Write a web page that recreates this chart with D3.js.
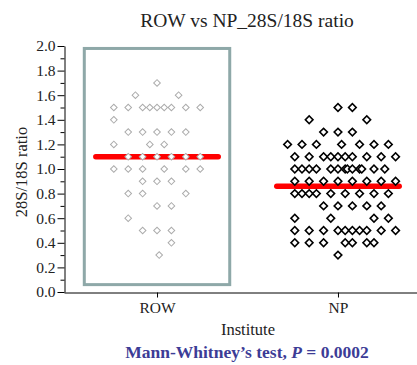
<!DOCTYPE html>
<html>
<head>
<meta charset="utf-8">
<script src="https://cdn.jsdelivr.net/npm/d3@7"></script>
<style>
  body { margin: 0; background: #fff; }
  svg { display: block; }
  text { font-family: "Liberation Serif", "Times New Roman", serif; }
</style>
</head>
<body>
<div id="root"></div>
<script>
const WIDTH = 417
const HEIGHT = 365

const groups = ['ROW', 'NP']
const yMajorTicks = [0, 0.2, 0.4, 0.6, 0.8, 1.0, 1.2, 1.4, 1.6, 1.8, 2.0]
const yMinorTicks = [0.1, 0.3, 0.5, 0.7, 0.9, 1.1, 1.3, 1.5, 1.7, 1.9]

// [ratio, column offsets of the dots at that ratio]
const rowPoints = [
  [1.7, [0]],
  [1.6, [-3, 3]],
  [1.5, [-6, -4, -2, -1, 0, 1, 2, 4, 6]],
  [1.4, [-6]],
  [1.3, [-4, -2, 0, 2, 4]],
  [1.2, [-6, -1, 1]],
  [1.1, [-4, -2, 0, 2, 4, 6]],
  [1.0, [-6, -4, -2, 1, 4, 6]],
  [0.9, [-2, 0, 2]],
  [0.8, [-4, -2, 4]],
  [0.7, [0, 2]],
  [0.6, [-4]],
  [0.5, [-2, 0, 2]],
  [0.4, [2]],
  [0.3, [0.3]]
]

const npPoints = [
  [1.5, [0, 2]],
  [1.4, [-4, 4]],
  [1.3, [-2, 0, 2]],
  [1.2, [-7, -5, -3, 0.5, 3, 5, 7]],
  [1.1, [-6, -4, -2, -1, 0, 1, 2, 4, 6, 8]],
  [1.0, [-6, -5, -4, -3, -1, 0, 1, 1.3, 2, 3, 3.3, 5, 6.5]],
  [0.9, [-6, -4, -2, 0, 2, 4, 6, 8]],
  [0.8, [-6, -5, -4, -3, -1, 1, 3, 5, 7]],
  [0.7, [-2, 0, 2, 4, 6]],
  [0.6, [-6, -1, 5, 7]],
  [0.5, [-6, -4, -2, 0, 1, 2, 3, 4, 6, 8]],
  [0.4, [-6, -4, -2, 1, 2, 4, 5]],
  [0.3, [0]]
]

const medians = [1.1, 0.86]
const highlightBox = { group: 'ROW', top: 1.98, bottom: 0.06, halfCols: 10.1 }

const y = d3.scaleLinear().domain([0, 2]).range([292, 46])
const x = d3.scalePoint().domain(groups).range([64, 431]).padding(0.514)
const col = d3.scaleLinear().domain([0, 1]).range([0, 7.2])

const svg = d3.select('#root')
  .append('svg')
  .attr('width', WIDTH)
  .attr('height', HEIGHT)

// highlight box round the ROW group
svg.append('rect')
  .attr('x', x(highlightBox.group) - col(highlightBox.halfCols))
  .attr('y', y(highlightBox.top))
  .attr('width', col(highlightBox.halfCols) * 2)
  .attr('height', y(highlightBox.bottom) - y(highlightBox.top))
  .attr('fill', 'none')
  .attr('stroke', '#8ea8a8')
  .attr('stroke-width', 3)

// axes
svg.append('g')
  .attr('transform', 'translate(64.5,0)')
  .call(d3.axisLeft(y).tickValues(yMinorTicks).tickSize(4).tickSizeOuter(0).tickFormat(''))
  .call(g => g.select('.domain').remove())

svg.append('g')
  .attr('transform', 'translate(64.5,0)')
  .call(d3.axisLeft(y).tickValues(yMajorTicks).tickSize(7).tickSizeOuter(0).tickPadding(2).tickFormat(d3.format('.1f')))
  .call(g => g.selectAll('text').attr('font-size', 15.5).attr('font-family', '"Liberation Serif", serif').attr('fill', '#222'))

svg.append('g')
  .attr('transform', 'translate(0,292.5)')
  .call(d3.axisBottom(x).tickSize(5).tickSizeOuter(0).tickPadding(4))
  .call(g => g.selectAll('text').attr('font-size', 15.5).attr('font-family', '"Liberation Serif", serif').attr('fill', '#222'))

// median bars
svg.selectAll('.median')
  .data(medians)
  .enter()
  .append('line')
  .attr('class', 'median')
  .attr('x1', (d, i) => x(groups[i]) - col(8.5))
  .attr('x2', (d, i) => x(groups[i]) + col(8.5))
  .attr('y1', d => y(d))
  .attr('y2', d => y(d))
  .attr('stroke', '#ff0000')
  .attr('stroke-width', 5.5)
  .attr('stroke-linecap', 'round')

const flatten = (rows, group) => rows.flatMap(([v, cols]) => cols.map(c => ({ group, value: v, col: c })))

const styles = {
  ROW: { size: 22, stroke: '#acacac', width: 1 },
  NP: { size: 29, stroke: '#000', width: 1.6 }
}

const dots = flatten(rowPoints, 'ROW').concat(flatten(npPoints, 'NP'))

svg.selectAll('.dot')
  .data(dots)
  .enter()
  .append('path')
  .attr('class', 'dot')
  .attr('d', d => d3.symbol(d3.symbolSquare, styles[d.group].size)())
  .attr('transform', d => `translate(${x(d.group) + col(d.col)},${y(d.value)}) rotate(45)`)
  .attr('fill', '#fff')
  .attr('stroke', d => styles[d.group].stroke)
  .attr('stroke-width', d => styles[d.group].width)

// texts
svg.append('text')
  .attr('x', 247)
  .attr('y', 26.5)
  .attr('text-anchor', 'middle')
  .attr('font-size', 19.5)
  .attr('fill', '#222')
  .text('ROW vs NP_28S/18S ratio')

svg.append('text')
  .attr('transform', 'translate(27,172) rotate(-90)')
  .attr('text-anchor', 'middle')
  .attr('font-size', 16.5)
  .attr('fill', '#222')
  .text('28S/18S ratio')

svg.append('text')
  .attr('x', 248)
  .attr('y', 335)
  .attr('text-anchor', 'middle')
  .attr('font-size', 16.5)
  .attr('fill', '#222')
  .text('Institute')

const note = svg.append('text')
  .attr('x', 247)
  .attr('y', 358)
  .attr('text-anchor', 'middle')
  .attr('font-size', 17.5)
  .attr('font-weight', 'bold')
  .attr('fill', '#3c3c96')
note.append('tspan').text('Mann-Whitney\u2019s test, ')
note.append('tspan').attr('font-style', 'italic').text('P')
note.append('tspan').text(' = 0.0002')
</script>
</body>
</html>
